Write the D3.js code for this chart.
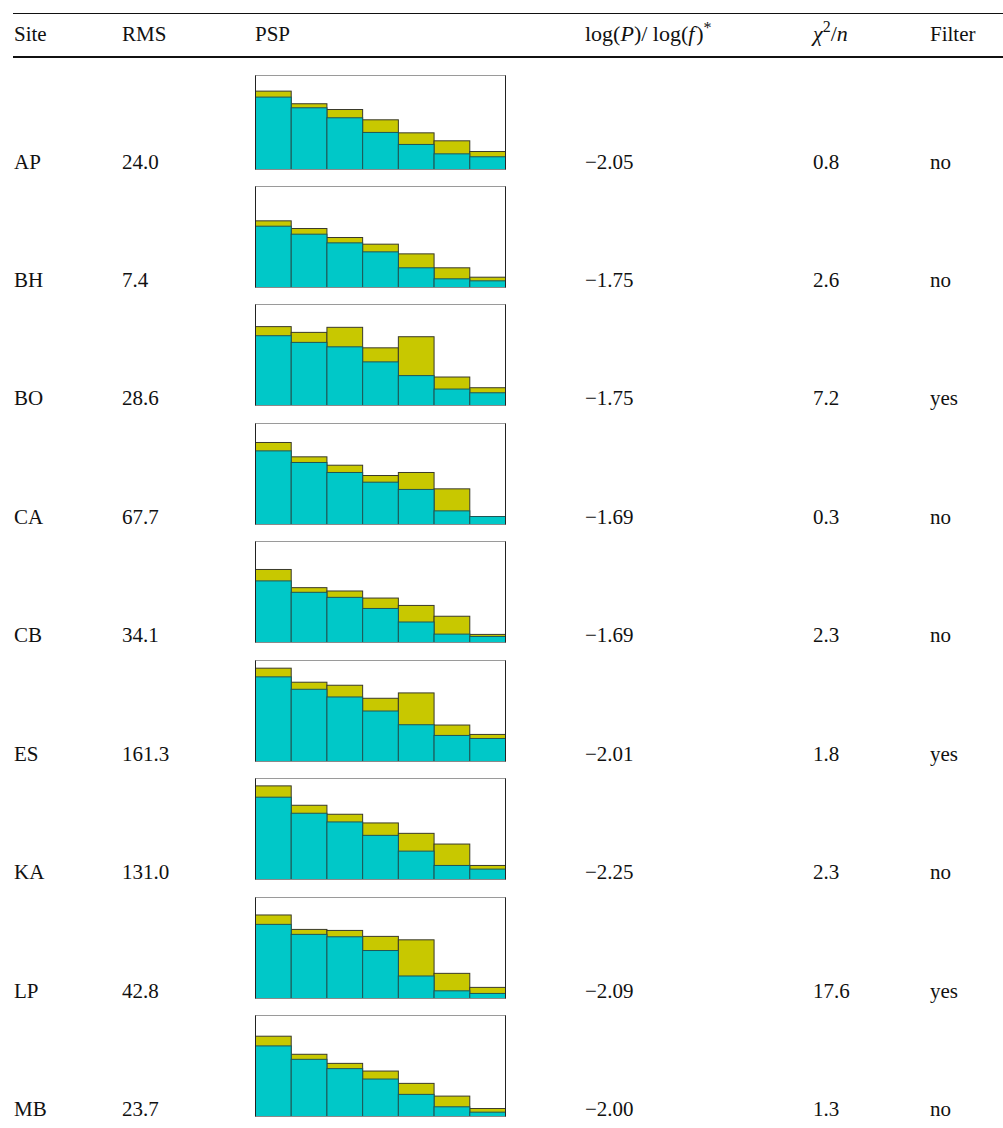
<!DOCTYPE html>
<html>
<head>
<meta charset="utf-8">
<script src="https://cdn.jsdelivr.net/npm/d3@7/dist/d3.min.js"></script>
<style>
  html, body { margin: 0; padding: 0; background: #fff; }
  svg text { font-family: "Liberation Serif", "DejaVu Serif", serif; fill: #111; }
</style>
</head>
<body>
<div id="chart"></div>
<script>
// ---- data ----
const sites   = ["AP", "BH", "BO", "CA", "CB", "ES", "KA", "LP", "MB"];
const rms     = [24.0, 7.4, 28.6, 67.7, 34.1, 161.3, 131.0, 42.8, 23.7];
const slopes  = [-2.05, -1.75, -1.75, -1.69, -1.69, -2.01, -2.25, -2.09, -2.00];
const chi2n   = [0.8, 2.6, 7.2, 0.3, 2.3, 1.8, 2.3, 17.6, 1.3];
const filters = ["no", "no", "yes", "no", "no", "yes", "no", "yes", "no"];
const bins    = [1, 2, 3, 4, 5, 6, 7];
// PSP: lower (cyan) part and total (cyan + yellow) height, 0-100 scale
const pspLower = [
  [71.7, 61.1, 51.2, 36.7, 24.8, 15.5, 12.6],
  [60.7, 52.8, 44.2, 35.3, 19.5, 8.6, 6.6],
  [69.1, 62.5, 58.1, 43.2, 29.6, 16.3, 12.6],
  [72.9, 61.4, 51.5, 41.9, 34.7, 13.5, 7.9],
  [61.0, 49.7, 44.7, 33.7, 20.3, 8.3, 6.0],
  [83.8, 71.5, 63.9, 50.0, 36.4, 25.8, 22.8],
  [81.5, 65.6, 57.0, 43.7, 28.1, 13.9, 10.3],
  [73.4, 63.5, 61.1, 47.5, 22.3, 7.6, 5.0],
  [69.9, 56.6, 47.4, 37.1, 21.9, 9.6, 4.3]
];
const pspTotal = [
  [77.6, 65.1, 59.4, 49.2, 36.3, 28.4, 17.8],
  [66.0, 58.4, 49.5, 42.9, 33.3, 19.5, 10.2],
  [78.1, 72.4, 77.4, 57.1, 68.1, 28.2, 17.6],
  [81.2, 67.0, 58.7, 48.5, 51.5, 35.3, 7.9],
  [72.3, 54.3, 51.0, 44.0, 36.7, 26.0, 8.0],
  [92.4, 78.5, 75.5, 62.6, 67.9, 36.1, 26.8],
  [92.7, 73.5, 64.6, 56.0, 45.7, 35.1, 13.9],
  [82.7, 68.4, 67.4, 61.5, 58.1, 24.9, 11.0],
  [79.5, 61.6, 52.6, 45.0, 32.8, 20.2, 7.9]
];

// ---- layout ----
const W = 1003, H = 1128;
const FS = 21;
const col = { site: 14, rms: 122, psp: 255, slope: 585, chi: 813, filter: 930 };
const panelW = 250, panelH = 101, panelTopMin = 75;
const cyan = "#00c8c8", olive = "#c8c800";

const svg = d3.select("#chart").append("svg")
  .attr("width", W).attr("height", H)
  .style("display", "block");

// rules
svg.append("line").attr("x1", 13).attr("x2", W).attr("y1", 13.5).attr("y2", 13.5)
  .attr("stroke", "#111").attr("stroke-width", 1.2);
svg.append("line").attr("x1", 13).attr("x2", W).attr("y1", 57).attr("y2", 57)
  .attr("stroke", "#111").attr("stroke-width", 2.2);

// header
const hy = 41;
const hdr = svg.append("g").attr("font-size", FS);
hdr.append("text").attr("x", col.site).attr("y", hy).text("Site");
hdr.append("text").attr("x", col.rms).attr("y", hy).text("RMS");
hdr.append("text").attr("x", col.psp).attr("y", hy).text("PSP");
const t1 = hdr.append("text").attr("x", col.slope).attr("y", hy).attr("font-size", 22);
t1.append("tspan").text("log(");
t1.append("tspan").attr("font-style", "italic").text("P");
t1.append("tspan").text(")/ log(");
t1.append("tspan").attr("font-style", "italic").text("f\u200a");
t1.append("tspan").text(")");
t1.append("tspan").attr("font-size", 16).attr("dy", -8).text("*");
const t2 = hdr.append("text").attr("x", col.chi).attr("y", hy).attr("font-size", 22);
t2.append("tspan").attr("font-style", "italic").text("\u03c7");
t2.append("tspan").attr("font-size", 16).attr("dy", -9).text("2");
t2.append("tspan").attr("dy", 9).text("/");
t2.append("tspan").attr("font-style", "italic").text("n");
hdr.append("text").attr("x", col.filter).attr("y", hy).text("Filter");

// rows
const rowY = d3.scalePoint().domain(sites).range([168.5, 1116]);
const x = d3.scaleBand().domain(bins).range([0, panelW]).padding(0);
const y = d3.scaleLinear().domain([0, 100]).range([0, panelH]);
const fmt1 = d3.format(".1f"), fmt2 = d3.format(".2f");

sites.forEach((s, i) => {
  const by = rowY(s);
  const g = svg.append("g").attr("font-size", FS);
  g.append("text").attr("x", col.site).attr("y", by).text(s);
  g.append("text").attr("x", col.rms).attr("y", by).text(fmt1(rms[i]));
  g.append("text").attr("x", col.slope).attr("y", by).text(fmt2(slopes[i]));
  g.append("text").attr("x", col.chi).attr("y", by).text(fmt1(chi2n[i]));
  g.append("text").attr("x", col.filter).attr("y", by).text(filters[i]);

  const bottom = Math.round(by) + 0.5;
  const top = Math.max(bottom - panelH, panelTopMin + 0.5);
  const p = svg.append("g").attr("transform", `translate(${col.psp + 0.5},0)`);
  // frame
  p.append("rect").attr("x", 0).attr("y", top).attr("width", panelW).attr("height", bottom - top)
    .attr("fill", "#fff").attr("stroke", "#9a9a9a").attr("stroke-width", 1);
  // totals (olive)
  p.selectAll("rect.tot").data(bins).join("rect").attr("class", "tot")
    .attr("x", b => x(b)).attr("width", x.bandwidth())
    .attr("y", (b, j) => bottom - y(pspTotal[i][j]))
    .attr("height", (b, j) => y(pspTotal[i][j]))
    .attr("fill", olive).attr("stroke", "#3a3a2a").attr("stroke-width", 1);
  // lower (cyan)
  p.selectAll("rect.low").data(bins).join("rect").attr("class", "low")
    .attr("x", b => x(b)).attr("width", x.bandwidth())
    .attr("y", (b, j) => bottom - y(pspLower[i][j]))
    .attr("height", (b, j) => y(pspLower[i][j]))
    .attr("fill", cyan).attr("stroke", "#1f5656").attr("stroke-width", 1);
  // side edges of the frame
  p.append("line").attr("x1", 0).attr("x2", 0).attr("y1", top).attr("y2", bottom)
    .attr("stroke", "#222");
  p.append("line").attr("x1", panelW).attr("x2", panelW).attr("y1", top).attr("y2", bottom)
    .attr("stroke", "#222");
  p.append("line").attr("x1", 0).attr("x2", panelW).attr("y1", bottom).attr("y2", bottom)
    .attr("stroke", "#8a8a8a");
});
</script>
</body>
</html>
